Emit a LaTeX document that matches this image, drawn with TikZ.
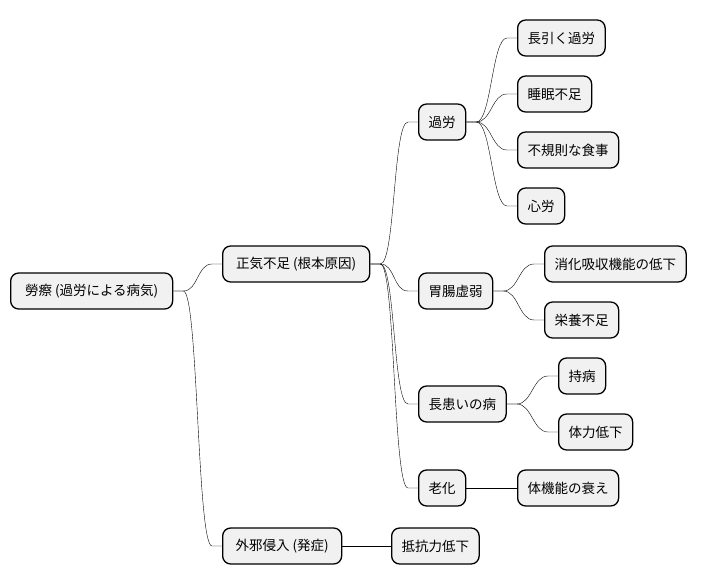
\documentclass[tikz,border=0pt]{standalone}
\usepackage{fontspec}
\setmainfont{Noto Sans CJK JP}
\usetikzlibrary{calc}
\definecolor{MapFill}{HTML}{F1F1F1}

\begin{document}
\begin{tikzpicture}[
    x=1pt, y=-1pt,
    topic/.style={
        fill=MapFill,
        draw=black,
        line width=1.3pt,
        rounded corners=8pt,
        anchor=west,
        minimum height=36pt,
        inner xsep=10pt,
        font=\fontsize{13.5}{16}\selectfont
    },
    branch/.style={
        line width=0.8pt,
        to path={-- ++(10,0) .. controls +(15,0) and +(-15,0) .. ($(\tikztotarget)+(-10,0)$) -- (\tikztotarget)}
    },
    stem/.style={line width=0.8pt}
]
\useasboundingbox (0,0) rectangle (701,583);

\node[topic, minimum width=162pt] (root) at (10,291) {勞瘵 (過労による病気)};
\node[topic, minimum width=147pt] (seiki) at (222,264) {正気不足 (根本原因)};
\node[topic, minimum width=119pt] (gaija) at (222,546) {外邪侵入 (発症)};

\node[topic] (karou) at (418,122) {過労};
\node[topic] (nagabiku) at (517,38) {長引く過労};
\node[topic] (suimin) at (517,94) {睡眠不足};
\node[topic] (fukisoku) at (517,150) {不規則な食事};
\node[topic] (shinrou) at (517,206) {心労};

\node[topic] (ichou) at (418,291) {胃腸虚弱};
\node[topic] (shouka) at (544,264) {消化吸収機能の低下};
\node[topic] (eiyou) at (544,320) {栄養不足};

\node[topic] (nagawazurai) at (418,404) {長患いの病};
\node[topic] (jibyou) at (558,376) {持病};
\node[topic] (tairyoku) at (558,432) {体力低下};

\node[topic] (roka) at (418,488) {老化};
\node[topic] (kinou) at (517,488) {体機能の衰え};

\node[topic] (teikou) at (391,546) {抵抗力低下};

% root
\draw (root.east) to[branch] (seiki.west);
\draw (root.east) to[branch] (gaija.west);

% 正気不足
\draw (seiki.east) to[branch] (karou.west);
\draw (seiki.east) to[branch] (ichou.west);
\draw (seiki.east) to[branch] (nagawazurai.west);
\draw (seiki.east) to[branch] (roka.west);

% 過労
\draw (karou.east) to[branch] (nagabiku.west);
\draw (karou.east) to[branch] (suimin.west);
\draw (karou.east) to[branch] (fukisoku.west);
\draw (karou.east) to[branch] (shinrou.west);

% 胃腸虚弱
\draw (ichou.east) to[branch] (shouka.west);
\draw (ichou.east) to[branch] (eiyou.west);

% 長患いの病
\draw (nagawazurai.east) to[branch] (jibyou.west);
\draw (nagawazurai.east) to[branch] (tairyoku.west);

% straight ones
\draw[stem] (roka.east) -- (kinou.west);
\draw[stem] (gaija.east) -- (teikou.west);

\end{tikzpicture}
\end{document}
